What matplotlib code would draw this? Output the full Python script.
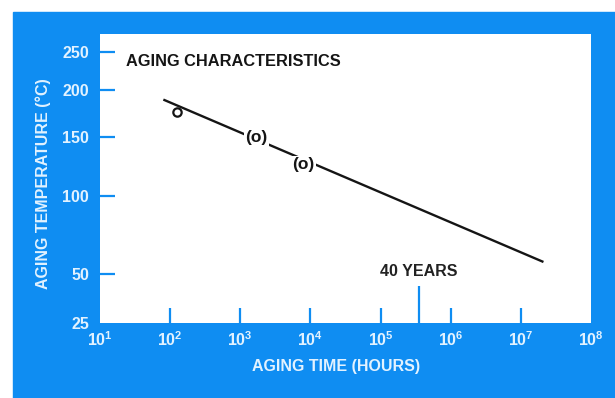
import numpy as np
import matplotlib
matplotlib.use("Agg")
import matplotlib.pyplot as plt
from matplotlib.patches import Rectangle
from matplotlib.ticker import FixedLocator, NullFormatter, NullLocator

# Arrhenius fit line (hours, deg C)
hours_fit = [80, 2.1e7]
temp_fit = [189, 57]
# bracketed test points
hours_pts = [1700, 8000]
temp_pts = [150, 125]
# open-circle test point
hours_open = [125]
temp_open = [175]

x_decades = [1, 2, 3, 4, 5, 6, 7, 8]
y_ticks = [25, 50, 100, 150, 200, 250]
forty_years_h = 40 * 8766

BLUE = '#0f8df2'
PALE = '#e2f2ff'
INK = '#151515'

plt.rcParams['font.family'] = ['Liberation Sans', 'DejaVu Sans']
plt.rcParams['mathtext.fontset'] = 'custom'
plt.rcParams['mathtext.rm'] = 'Liberation Sans:bold'
plt.rcParams['mathtext.bf'] = 'Liberation Sans:bold'
plt.rcParams['mathtext.it'] = 'Liberation Sans:bold'

W, H = 615, 398
fig = plt.figure(figsize=(W / 100, H / 100), dpi=100)
fig.patches.append(Rectangle((13 / W, 0), 1, (H - 12) / H,
                             transform=fig.transFigure, color=BLUE, zorder=-5))

ax = fig.add_axes([100 / W, 75 / H, 491 / W, 289 / H])
ax.set_zorder(1)
ax.set_facecolor('white')
for s in ax.spines.values():
    s.set_visible(False)


# reciprocal absolute temperature axis
def fwd(t):
    return -1.0 / (np.asarray(t, dtype=float) + 273.15)


def inv(u):
    return -1.0 / np.asarray(u, dtype=float) - 273.15


ax.set_xscale('log')
ax.set_yscale('function', functions=(fwd, inv))
ax.set_xlim(10, 1e8)
ax.set_ylim(25, 278)

ax.plot(hours_fit, temp_fit, color=INK, lw=1.7, solid_capstyle='butt', zorder=2)
ax.plot(hours_open, temp_open, 'o', mfc='white', mec=INK, ms=6, mew=1.6, zorder=3)
for h, t in zip(hours_pts, temp_pts):
    ax.text(h, t, '(o)', ha='center', va='center', fontsize=12.5,
            fontweight='bold', color=INK, zorder=4,
            bbox=dict(facecolor='white', edgecolor='none', pad=0.8))

# x ticks
ax.xaxis.set_major_locator(FixedLocator([10.0 ** d for d in x_decades]))
ax.set_xticklabels([r'$\mathbf{10^{%d}}$' % d for d in x_decades])
ax.xaxis.set_minor_locator(FixedLocator([forty_years_h]))
ax.xaxis.set_minor_formatter(NullFormatter())
ax.tick_params(axis='x', which='major', direction='in', length=11, width=1.6,
               color=BLUE, labelcolor=PALE, labelsize=11.5, pad=5.5)
ax.tick_params(axis='x', which='minor', direction='in', length=26.5, width=1.6,
               color=BLUE)
ax.tick_params(axis='x', which='both', top=False)

# y ticks
ax.set_yticks(y_ticks)
ax.set_yticklabels([str(v) for v in y_ticks])
ax.yaxis.set_minor_locator(NullLocator())
ax.tick_params(axis='y', which='major', direction='in', length=11, width=1.6,
               color=BLUE, labelcolor=PALE, labelsize=11.5, pad=8, right=False)
for lab in ax.get_yticklabels():
    lab.set_fontweight('bold')

xt = ax.xaxis.get_major_ticks()
xt[0].tick1line.set_visible(False)
xt[-1].tick1line.set_visible(False)
ax.yaxis.get_major_ticks()[0].tick1line.set_visible(False)

ax.annotate('40 YEARS', xy=(forty_years_h, 0), xycoords=('data', 'axes fraction'),
            xytext=(0, (323 - 275.5) * 0.72), textcoords='offset points',
            ha='center', va='baseline', fontsize=11.5, fontweight='bold',
            color='#222222')

fig.text(126 / W, 1 - 66 / H, 'AGING CHARACTERISTICS', ha='left', va='baseline',
         fontsize=11.8, fontweight='bold', color=INK, zorder=3)
fig.text(336 / W, 1 - 367 / H, 'AGING TIME (HOURS)', ha='center', va='center',
         fontsize=11.5, fontweight='bold', color=PALE)
fig.text(43 / W, 1 - 184 / H, 'AGING TEMPERATURE (°C)', ha='center', va='center',
         rotation=90, fontsize=11.5, fontweight='bold', color=PALE)

fig.savefig('out.png', dpi=100)
